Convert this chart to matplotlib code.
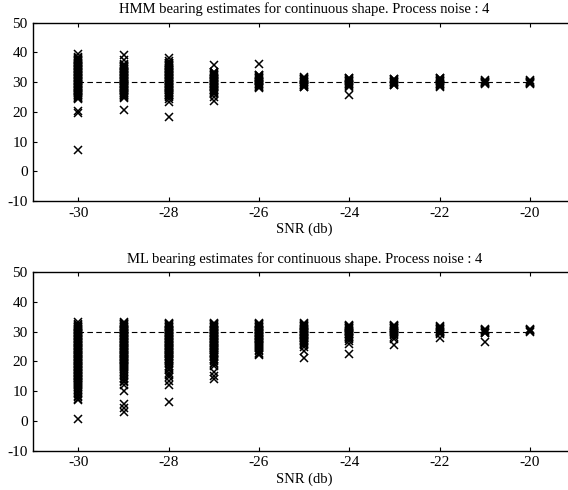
import numpy as np
import matplotlib
matplotlib.use("Agg")
import matplotlib.pyplot as plt

plt.rcParams['font.family'] = ['Liberation Serif', 'DejaVu Serif']
plt.rcParams['font.size'] = 10.5
plt.rcParams['axes.unicode_minus'] = False

# SNR levels (db)
snr = [-30, -29, -28, -27, -26, -25, -24, -23, -22, -21, -20]
true_bearing = 30

# HMM bearing estimates, one list per SNR level
hmm = [
    [39.5, 38.3, 38.0, 37.8, 37.5, 37.3, 37.0, 36.8, 36.5, 36.3, 36.0, 35.8, 35.5, 35.3,
     35.0, 34.8, 34.5, 34.3, 34.0, 33.8, 33.5, 33.3, 33.0, 32.8, 32.5, 32.3, 32.0, 31.8,
     31.5, 31.3, 31.0, 30.8, 30.5, 30.3, 30.0, 29.8, 29.5, 29.3, 29.0, 28.8, 28.5, 28.3,
     28.0, 27.8, 27.5, 27.3, 27.0, 26.8, 26.5, 26.3, 26.0, 25.8, 25.5, 25.3, 25.0, 24.8,
     24.5, 24.3, 20.2, 19.6, 7.2],
    [39.0, 37.6, 36.0, 35.8, 35.5, 35.3, 35.0, 34.8, 34.5, 34.3, 34.0, 33.8, 33.5, 33.3,
     33.0, 32.8, 32.5, 32.3, 32.0, 31.8, 31.5, 31.3, 31.0, 30.8, 30.5, 30.3, 30.0, 29.8,
     29.5, 29.3, 29.0, 28.8, 28.5, 28.3, 28.0, 27.8, 27.5, 27.3, 27.0, 26.8, 26.5, 26.3,
     26.0, 25.8, 25.5, 25.3, 25.0, 24.6, 20.6],
    [38.2, 37.2, 36.5, 36.3, 36.0, 35.8, 35.5, 35.3, 35.0, 34.8, 34.5, 34.3, 34.0, 33.8,
     33.5, 33.3, 33.0, 32.8, 32.5, 32.3, 32.0, 31.8, 31.5, 31.3, 31.0, 30.8, 30.5, 30.3,
     30.0, 29.8, 29.5, 29.3, 29.0, 28.8, 28.5, 28.3, 28.0, 27.8, 27.5, 27.3, 27.0, 26.8,
     26.5, 26.3, 26.0, 25.8, 25.5, 25.3, 25.0, 24.2, 23.4, 18.2],
    [35.6, 33.5, 33.3, 33.0, 32.8, 32.5, 32.3, 32.0, 31.8, 31.5, 31.3, 31.0, 30.8, 30.5,
     30.3, 30.0, 29.8, 29.5, 29.3, 29.0, 28.8, 28.5, 28.3, 28.0, 27.8, 27.5, 27.3, 27.0,
     26.8, 26.5, 26.3, 26.0, 25.0, 23.8],
    [36.2, 32.5, 32.3, 32.0, 31.8, 31.5, 31.3, 31.0, 30.8, 30.5, 30.3, 30.0, 29.8, 29.5,
     29.3, 29.0, 28.8, 28.5, 28.3, 28.0],
    [31.7, 31.5, 31.2, 31.0, 30.7, 30.5, 30.2, 30.0, 29.7, 29.5, 29.2, 29.0, 28.7, 28.5, 28.3],
    [31.5, 31.3, 31.0, 30.8, 30.5, 30.3, 30.0, 29.8, 29.5, 29.3, 29.0, 28.8, 28.5, 25.7],
    [31.2, 31.0, 30.7, 30.5, 30.2, 30.0, 29.7, 29.5, 29.2, 29.0],
    [31.5, 31.3, 31.0, 30.8, 30.5, 30.3, 30.0, 29.8, 29.5, 29.3, 29.0, 28.8, 28.5],
    [30.6, 30.4, 30.2, 30.0, 29.8, 29.6, 29.4],
    [30.6, 30.4, 30.2, 30.0, 29.8, 29.6, 29.4],
]

# ML bearing estimates, one list per SNR level
ml = [
    [33.2, 32.5, 32.2, 32.0, 31.7, 31.5, 31.2, 31.0, 30.7, 30.5, 30.2, 30.0, 29.7, 29.5,
     29.2, 29.0, 28.7, 28.5, 28.2, 28.0, 27.7, 27.5, 27.2, 27.0, 26.7, 26.5, 26.2, 26.0,
     25.7, 25.5, 25.2, 25.0, 24.7, 24.5, 24.2, 24.0, 23.7, 23.5, 23.2, 23.0, 22.7, 22.5,
     22.2, 22.0, 21.7, 21.5, 21.2, 21.0, 20.7, 20.5, 20.2, 20.0, 19.7, 19.5, 19.2, 19.0,
     18.7, 18.5, 18.2, 18.0, 17.7, 17.5, 17.2, 17.0, 16.7, 16.5, 16.2, 16.0, 15.7, 15.5,
     15.2, 15.0, 14.7, 14.5, 14.2, 14.0, 13.7, 13.5, 13.2, 13.0, 12.7, 12.5, 12.2, 12.0,
     11.5, 11.0, 10.5, 10.0, 9.5, 9.0, 8.5, 8.0, 7.5, 7.0, 0.5],
    [33.3, 33.0, 32.7, 32.5, 32.2, 32.0, 31.7, 31.5, 31.2, 31.0, 30.7, 30.5, 30.2, 30.0,
     29.7, 29.5, 29.2, 29.0, 28.7, 28.5, 28.2, 28.0, 27.7, 27.5, 27.2, 27.0, 26.7, 26.5,
     26.2, 26.0, 25.7, 25.5, 25.2, 25.0, 24.7, 24.5, 24.2, 24.0, 23.7, 23.5, 23.2, 23.0,
     22.7, 22.5, 22.2, 22.0, 21.7, 21.5, 21.2, 21.0, 20.7, 20.5, 20.2, 20.0, 19.7, 19.5,
     19.2, 19.0, 18.7, 18.5, 18.2, 18.0, 17.5, 17.0, 16.5, 16.0, 15.5, 15.0, 14.5, 14.0,
     13.5, 13.2, 12.0, 10.2, 5.6, 4.2, 3.0],
    [33.0, 32.7, 32.5, 32.2, 32.0, 31.7, 31.5, 31.2, 31.0, 30.7, 30.5, 30.2, 30.0, 29.7,
     29.5, 29.2, 29.0, 28.7, 28.5, 28.2, 28.0, 27.7, 27.5, 27.2, 27.0, 26.7, 26.5, 26.2,
     26.0, 25.7, 25.5, 25.2, 25.0, 24.7, 24.5, 24.2, 24.0, 23.7, 23.5, 23.2, 23.0, 22.7,
     22.5, 22.2, 22.0, 21.7, 21.5, 21.2, 21.0, 20.7, 20.5, 20.2, 20.0, 19.5, 19.0, 18.5,
     18.0, 17.5, 17.0, 16.2, 15.5, 14.8, 13.4, 12.0, 6.4],
    [33.0, 32.7, 32.5, 32.2, 32.0, 31.7, 31.5, 31.2, 31.0, 30.7, 30.5, 30.2, 30.0, 29.7,
     29.5, 29.2, 29.0, 28.7, 28.5, 28.2, 28.0, 27.7, 27.5, 27.2, 27.0, 26.7, 26.5, 26.2,
     26.0, 25.7, 25.5, 25.2, 25.0, 24.7, 24.5, 24.2, 24.0, 23.7, 23.5, 23.2, 23.0, 22.7,
     22.5, 22.2, 22.0, 21.5, 21.0, 20.5, 20.0, 19.5, 19.0, 18.5, 16.6, 15.2, 14.0],
    [33.0, 32.7, 32.5, 32.2, 32.0, 31.7, 31.5, 31.2, 31.0, 30.7, 30.5, 30.2, 30.0, 29.7,
     29.5, 29.2, 29.0, 28.7, 28.5, 28.2, 28.0, 27.7, 27.5, 27.2, 27.0, 26.7, 26.5, 26.2,
     26.0, 25.7, 25.5, 25.2, 25.0, 24.5, 24.0, 23.5, 23.0, 22.5, 22.2],
    [32.8, 32.5, 32.3, 32.0, 31.8, 31.5, 31.3, 31.0, 30.8, 30.5, 30.3, 30.0, 29.8, 29.5,
     29.3, 29.0, 28.8, 28.5, 28.3, 28.0, 27.8, 27.5, 27.3, 27.0, 26.8, 26.5, 26.3, 26.0,
     25.5, 25.0, 23.6, 21.2],
    [32.4, 32.1, 31.9, 31.6, 31.4, 31.1, 30.9, 30.6, 30.4, 30.1, 29.9, 29.6, 29.4, 29.1,
     28.9, 28.6, 28.4, 27.9, 27.5, 26.8, 25.8, 22.6],
    [32.4, 32.1, 31.9, 31.6, 31.4, 31.1, 30.9, 30.6, 30.4, 30.1, 29.9, 29.6, 29.4, 29.0,
     28.2, 27.4, 25.6],
    [31.8, 31.5, 31.3, 31.0, 30.8, 30.5, 30.3, 30.0, 29.8, 29.5, 29.2, 28.0],
    [31.0, 30.7, 30.5, 30.2, 30.0, 29.7, 29.5, 26.6],
    [31.0, 30.7, 30.5, 30.2, 30.0],
]

titles = ['HMM bearing estimates for continuous shape. Process noise : 4',
          'ML bearing estimates for continuous shape. Process noise : 4']

fig = plt.figure(figsize=(5.68, 4.9), dpi=100)
ax1 = fig.add_axes([0.0587, 0.5898, 0.9537, 0.3639])
ax2 = fig.add_axes([0.0587, 0.0802, 0.9537, 0.3641])

for ax, est, title in zip([ax1, ax2], [hmm, ml], titles):
    # true bearing
    ax.plot([snr[0], snr[-1]], [true_bearing, true_bearing], color='k',
            linewidth=0.8, linestyle=(0, (5, 3)))
    for s, vals in zip(snr, est):
        ax.plot([s] * len(vals), vals, 'x', color='k', markersize=6.3,
                markeredgewidth=1.1)
    ax.set_xlim(-31, -19)
    ax.set_ylim(-10, 50)
    ax.set_xticks([-30, -28, -26, -24, -22, -20])
    ax.set_yticks([-10, 0, 10, 20, 30, 40, 50])
    ax.tick_params(direction='in', top=True, right=True, length=3, width=0.8, pad=4,
                   labelsize=11)
    for sp in ax.spines.values():
        sp.set_linewidth(1.0)
    ax.set_title(title, fontsize=10.5, pad=7)
    ax.set_xlabel('SNR (db)', labelpad=2)

fig.savefig('out.png', dpi=100)
